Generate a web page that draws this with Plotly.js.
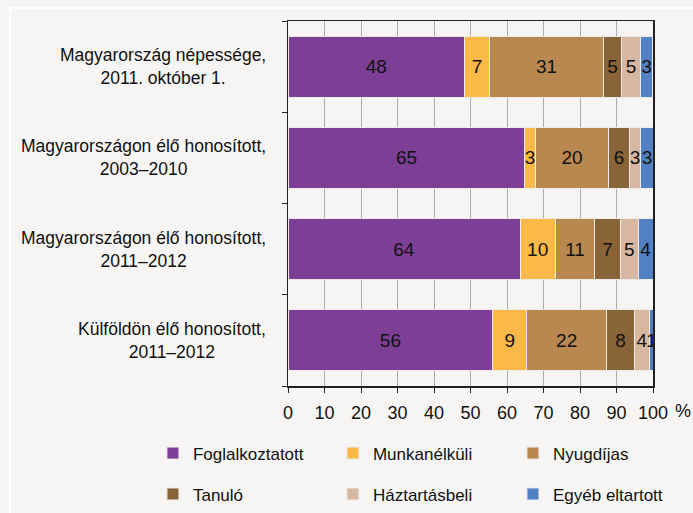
<!DOCTYPE html>
<html>
<head>
<meta charset="utf-8">
<script src="https://cdn.plot.ly/plotly-3.0.1.min.js"></script>
<style>
html,body{margin:0;padding:0;background:#f6f5f3;}
#chart{width:693px;height:513px;}
</style>
</head>
<body>
<div id="chart"></div>
<script>
const categories = [
  "Magyarország népessége,<br>2011. október 1.",
  "Magyarországon élő honosított,<br>2003–2010",
  "Magyarországon élő honosított,<br>2011–2012",
  "Külföldön élő honosított,<br>2011–2012"
];
const seriesNames = ["Foglalkoztatott", "Munkanélküli", "Nyugdíjas", "Tanuló", "Háztartásbeli", "Egyéb eltartott"];
const foglalkoztatott = [48.4, 64.9, 63.6, 56.1];
const munkanelkuli = [6.8, 2.8, 9.6, 9.3];
const nyugdijas = [31.3, 20.2, 10.9, 21.9];
const tanulo = [4.8, 5.6, 6.9, 7.6];
const haztartasbeli = [5.3, 3.2, 5.0, 4.2];
const egyeb = [3.3, 3.3, 4.0, 1.0];
const xTickVals = [0, 10, 20, 30, 40, 50, 60, 70, 80, 90, 100];
const xTickText = ["0", "10", "20", "30", "40", "50", "60", "70", "80", "90", "100"];

const values = [foglalkoztatott, munkanelkuli, nyugdijas, tanulo, haztartasbeli, egyeb];
const colors = ["#7d3f96", "#fdb84a", "#b98851", "#8a6439", "#d7b7a1", "#5181c3"];
const FONT = "Liberation Sans, Arial, sans-serif";

const catIdx = categories.map((c, i) => i);

const traces = values.map((v, i) => ({
  type: "bar",
  orientation: "h",
  name: seriesNames[i],
  y: catIdx,
  x: v,
  marker: {color: colors[i], line: {color: "#ecebe8", width: 1}},
  texttemplate: "%{x:.0f}",
  textposition: "inside",
  insidetextanchor: "middle",
  textangle: 0,
  constraintext: "none",
  textfont: {family: FONT, size: 19, color: "#111"},
  hoverinfo: "skip",
  legend: i < 3 ? "legend" : "legend2"
}));

const annotations = categories.map((c, i) => ({
  xref: "paper", yref: "y",
  x: -0.0548, y: i,
  xanchor: "right", yanchor: "middle",
  align: "center",
  text: c,
  showarrow: false,
  font: {family: FONT, size: 17.5, color: "#111"}
}));
annotations.push({
  xref: "paper", yref: "paper",
  x: 1.082, y: -0.068,
  xanchor: "center", yanchor: "middle",
  text: "%", showarrow: false,
  font: {family: FONT, size: 18, color: "#111"}
});

const layout = {
  width: 693, height: 513,
  margin: {l: 288, r: 40, t: 21, b: 127, autoexpand: false},
  paper_bgcolor: "#f6f5f3",
  plot_bgcolor: "#f6f5f3",
  barmode: "stack",
  bargap: 0.33,
  font: {family: FONT, size: 17, color: "#111"},
  xaxis: {
    range: [0, 100],
    tickvals: xTickVals,
    ticktext: xTickText,
    showgrid: true, gridcolor: "#ababab", gridwidth: 1,
    showline: true, linecolor: "#222", linewidth: 1.5, mirror: true,
    ticks: "outside", ticklen: 5, tickcolor: "#222",
    ticklabelstandoff: 5,
    tickfont: {family: FONT, size: 18, color: "#111"},
    zeroline: false, fixedrange: true, automargin: false
  },
  yaxis: {
    type: "linear",
    range: [3.5, -0.5],
    tickvals: [-0.5, 0.5, 1.5, 2.5, 3.5],
    showticklabels: false,
    ticks: "outside", ticklen: 5, tickcolor: "#222",
    showgrid: false,
    showline: true, linecolor: "#222", linewidth: 1.5, mirror: true,
    zeroline: false, fixedrange: true, automargin: false
  },
  legend: {
    orientation: "h", x: -0.37, xanchor: "left", y: -0.185, yanchor: "middle",
    entrywidth: 135, font: {family: FONT, size: 17, color: "#111"},
    bgcolor: "rgba(0,0,0,0)", traceorder: "normal"
  },
  legend2: {
    orientation: "h", x: -0.37, xanchor: "left", y: -0.297, yanchor: "middle",
    entrywidth: 135, font: {family: FONT, size: 17, color: "#111"},
    bgcolor: "rgba(0,0,0,0)", traceorder: "normal"
  },
  shapes: [{
    type: "rect", xref: "paper", yref: "paper",
    x0: -0.7616, x1: 1.3, y0: -0.5, y1: 1.0356,
    line: {color: "#ffffff", width: 2.5}, fillcolor: "rgba(0,0,0,0)", layer: "below"
  }],
  annotations: annotations
};

Plotly.newPlot("chart", traces, layout, {displayModeBar: false, staticPlot: true});
</script>
</body>
</html>
